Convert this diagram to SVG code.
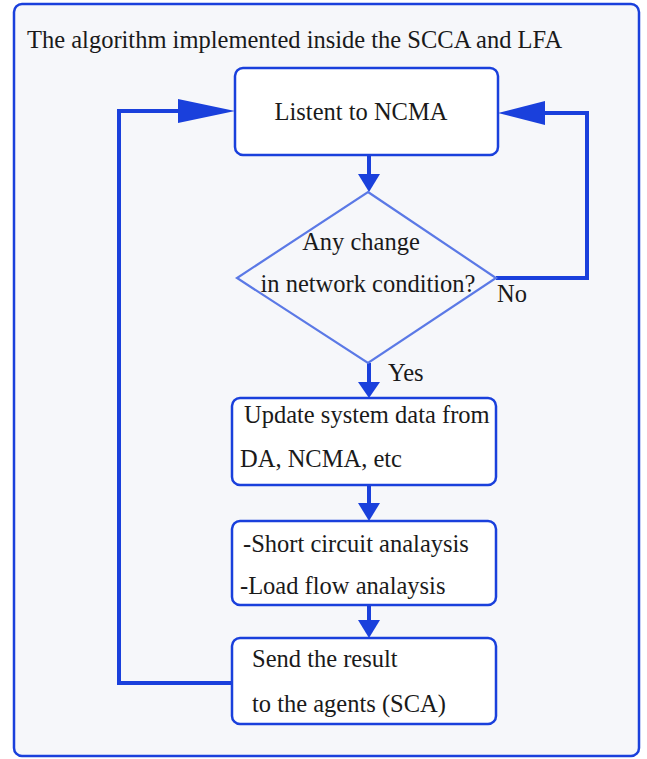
<svg xmlns="http://www.w3.org/2000/svg" width="647" height="759" viewBox="0 0 647 759">
  <defs>
    <style>
      .frame { fill: #f6f7fa; stroke: #1a40dc; stroke-width: 2.5; }
      .box { fill: #ffffff; stroke: #1a40dc; stroke-width: 2.5; }
      .decision { fill: none; stroke: #5b79e6; stroke-width: 2.2; }
      .flow { fill: none; stroke: #1a40dc; stroke-width: 4; }
      .head { fill: #1a40dc; stroke: none; }
      text { font-family: "Liberation Serif", "Times New Roman", serif; font-size: 24.5px; fill: #1a1a1a; }
      .mid { text-anchor: middle; }
    </style>
  </defs>

  <!-- outer panel with caption -->
  <rect class="frame" x="14" y="4" width="625" height="752" rx="8"/>
  <text x="27" y="48">The algorithm implemented inside the SCCA and LFA</text>

  <!-- connectors -->
  <g id="connectors">
    <!-- listen -> decision -->
    <line class="flow" x1="369" y1="155" x2="369" y2="176"/>
    <polygon class="head" points="358,174 380,174 369,192"/>
    <!-- decision (yes) -> update -->
    <line class="flow" x1="369" y1="363" x2="369" y2="384"/>
    <polygon class="head" points="358,382 380,382 369,398"/>
    <!-- update -> analysis -->
    <line class="flow" x1="369" y1="485" x2="369" y2="505"/>
    <polygon class="head" points="358,503 380,503 369,521"/>
    <!-- analysis -> send -->
    <line class="flow" x1="369" y1="605" x2="369" y2="622"/>
    <polygon class="head" points="358,620 380,620 369,638"/>
    <!-- decision (no) -> back to listen -->
    <polyline class="flow" points="496,278 587,278 587,113 540,113"/>
    <polygon class="head" points="498,113 545,101 545,125"/>
    <!-- send -> back to listen -->
    <polyline class="flow" points="232,683 119,683 119,111 185,111"/>
    <polygon class="head" points="235,111 178,99 178,123"/>
  </g>

  <g id="listen">
    <rect class="box" x="235" y="68" width="263" height="87" rx="8"/>
    <text class="mid" x="361" y="120">Listent to NCMA</text>
  </g>

  <g id="decision">
    <polygon class="decision" points="368,192 496,278 368,363 237,278"/>
    <text class="mid" x="361" y="250">Any change</text>
    <text class="mid" x="368" y="292">in network condition?</text>
  </g>

  <g id="labels">
    <text x="497" y="302">No</text>
    <text x="388" y="381">Yes</text>
  </g>

  <g id="update">
    <rect class="box" x="232" y="398" width="264" height="87" rx="8"/>
    <text x="244" y="423">Update system data from</text>
    <text x="240" y="467">DA, NCMA, etc</text>
  </g>

  <g id="analysis">
    <rect class="box" x="232" y="521" width="264" height="84" rx="8"/>
    <text x="243" y="552">-Short circuit analaysis</text>
    <text x="240" y="594">-Load flow analaysis</text>
  </g>

  <g id="send">
    <rect class="box" x="232" y="638" width="264" height="86" rx="8"/>
    <text x="252" y="667">Send the result</text>
    <text x="252" y="712">to the agents (SCA)</text>
  </g>
</svg>
